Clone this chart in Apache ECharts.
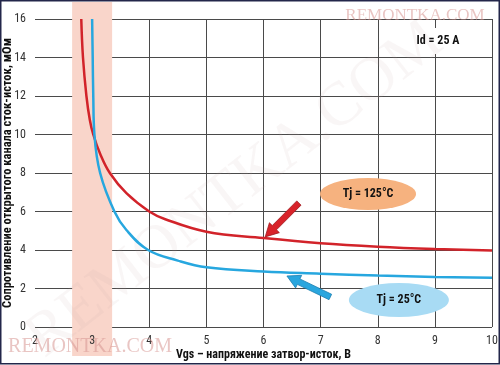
<!DOCTYPE html>
<html><head><meta charset="utf-8">
<script src="https://cdn.jsdelivr.net/npm/echarts@6/dist/echarts.min.js"></script>
<style>html,body{margin:0;padding:0;background:#fff}#c{width:500px;height:365px}</style>
</head><body><div id="c"></div>
<script>
// ---- data ----
const vgsHot = [2.81, 2.84, 2.9, 2.96, 3.02, 3.14, 3.31, 3.6, 4.0, 4.28, 5, 6, 7, 8, 9, 10];
const rdsHot = [16, 14, 12, 10.75, 10, 9, 8, 6.95, 6.0, 5.6, 4.95, 4.62, 4.35, 4.17, 4.05, 3.97];
const vgsCold = [3.0, 3.01, 3.02, 3.04, 3.14, 3.39, 3.6, 3.98, 4.5, 5, 6, 7, 8, 9, 10];
const rdsCold = [16, 14, 12, 10, 8, 6.0, 5.04, 4.0, 3.45, 3.1, 2.88, 2.77, 2.67, 2.6, 2.56];
const xTicks = [2, 3, 4, 5, 6, 7, 8, 9, 10];
const yTicks = [0, 2, 4, 6, 8, 10, 12, 14, 16];
const band = [2.65, 3.35];
const labelHot = 'Tj = 125°C', labelCold = 'Tj = 25°C';
const hotLabelPos = [7.83, 6.91], coldLabelPos = [8.37, 1.40];
const hotArrow = {tip: [6.03, 4.68], tail: [6.62, 6.44]};
const coldArrow = {tip: [6.41, 2.65], tail: [7.17, 1.56]};
const idText = 'Id = 25 A';
const xName = 'Vgs – напряжение затвор-исток, В';
const yName = 'Сопротивление открытого канала сток-исток, мОм';

const F = '"Liberation Sans Narrow","Roboto Condensed","Liberation Sans",Arial,sans-serif';
const zip = (a, b) => a.map((v, i) => [v, b[i]]);

const chart = echarts.init(document.getElementById('c'), null, {renderer: 'canvas'});
const axisCommon = {
  type: 'value', min: xTicks[0], max: xTicks[xTicks.length - 1], interval: 1
};
const option = {
  animation: false,
  backgroundColor: '#fff',
  grid: {left: 35, right: 8, top: 19, bottom: 38, containLabel: false, outerBoundsMode: 'none'},
  xAxis: [
    Object.assign({}, axisCommon, {
      z: 0,
      axisLine: {show: false}, axisTick: {show: false}, axisLabel: {show: false},
      splitLine: {show: true, showMinLine: false, lineStyle: {color: '#4a4a4a', width: 1}}
    }),
    Object.assign({}, axisCommon, {
      z: 10, position: 'bottom',
      axisLine: {show: false}, axisTick: {show: false}, splitLine: {show: false},
      axisLabel: {margin: 8, color: '#333', fontFamily: F, fontSize: 12},
      name: xName, nameLocation: 'middle', nameGap: 22, nameMoveOverlap: false,
      nameTextStyle: {fontFamily: F, fontWeight: 'bold', fontSize: 12, color: '#111'}
    })
  ],
  yAxis: {
    type: 'value', min: yTicks[0], max: yTicks[yTicks.length - 1], interval: 2,
    axisLine: {show: false}, axisTick: {show: false},
    axisLabel: {margin: 9, color: '#333', fontFamily: F, fontSize: 12},
    splitLine: {show: true, lineStyle: {color: '#4a4a4a', width: 1}},
    name: yName, nameLocation: 'middle', nameGap: 21, nameRotate: 90, nameMoveOverlap: false,
    nameTextStyle: {fontFamily: F, fontWeight: 'bold', fontSize: 12.5, color: '#111'}
  },
  series: [
    {type: 'line', z: 3, xAxisIndex: 0, data: zip(vgsHot, rdsHot), smooth: 0.4, symbol: 'none',
     lineStyle: {color: '#d2232a', width: 2.5}},
    {type: 'line', z: 3, xAxisIndex: 0, data: zip(vgsCold, rdsCold), smooth: 0.4, symbol: 'none',
     lineStyle: {color: '#27a7df', width: 2.5}}
  ]
};
chart.setOption(option);

const px = (p) => chart.convertToPixel({xAxisIndex: 0, yAxisIndex: 0}, p);
function arrowPts(tip, tail, w, hw, hl) {
  const dx = tail[0] - tip[0], dy = tail[1] - tip[1];
  const L = Math.hypot(dx, dy), ux = dx / L, uy = dy / L, nx = -uy, ny = ux;
  const b = [tip[0] + ux * hl, tip[1] + uy * hl];
  return [
    tip,
    [b[0] + nx * hw / 2, b[1] + ny * hw / 2],
    [b[0] + nx * w / 2, b[1] + ny * w / 2],
    [tail[0] + nx * w / 2, tail[1] + ny * w / 2],
    [tail[0] - nx * w / 2, tail[1] - ny * w / 2],
    [b[0] - nx * w / 2, b[1] - ny * w / 2],
    [b[0] - nx * hw / 2, b[1] - ny * hw / 2]
  ];
}
const b0 = px([band[0], 0]), b1 = px([band[1], 0]);
const hc = px(hotLabelPos), cc = px(coldLabelPos);
const g = [
  {type: 'rect', z: 1, shape: {x: b0[0], y: 2, width: b1[0] - b0[0], height: 354}, style: {fill: '#f9d5ca'}},
  {type: 'rect', z: 1, shape: {x: 404, y: 28, width: 80, height: 26}, style: {fill: '#fff'}},
  {type: 'text', z: 6, x: 438, y: 41, style: {text: idText, font: 'bold 12px ' + F, fill: '#111', align: 'center', verticalAlign: 'middle'}},
  {type: 'circle', z: 5, x: hc[0], y: hc[1], scaleX: 3, scaleY: 1, shape: {cx: 0, cy: 0, r: 16}, style: {fill: '#f6b27f'}},
  {type: 'text', z: 6, x: hc[0], y: hc[1], style: {text: labelHot, font: 'bold 12px ' + F, fill: '#111', align: 'center', verticalAlign: 'middle'}},
  {type: 'circle', z: 5, x: cc[0], y: cc[1], scaleX: 50 / 17, scaleY: 1, shape: {cx: 0, cy: 0, r: 17}, style: {fill: '#a8dbf4'}},
  {type: 'text', z: 6, x: cc[0], y: cc[1], style: {text: labelCold, font: 'bold 12px ' + F, fill: '#111', align: 'center', verticalAlign: 'middle'}},
  {type: 'polygon', z: 5, shape: {points: arrowPts(px(hotArrow.tip), px(hotArrow.tail), 6, 14, 13)}, style: {fill: '#d8232a', stroke: '#9e1a1f', lineWidth: 0.8}},
  {type: 'polygon', z: 5, shape: {points: arrowPts(px(coldArrow.tip), px(coldArrow.tail), 6, 14, 13)}, style: {fill: '#2aa6de', stroke: '#1d7fb0', lineWidth: 0.8}},
  {type: 'text', z: 20, x: 415, y: 16, style: {text: 'REMONTKA.COM', font: '17px "Liberation Serif","DejaVu Serif",serif', fill: 'rgba(215,150,145,0.55)', align: 'center', verticalAlign: 'middle'}},
  {type: 'text', z: 20, x: 90, y: 347, style: {text: 'REMONTKA.COM', font: '20px "Liberation Serif","DejaVu Serif",serif', fill: 'rgba(215,150,145,0.55)', align: 'center', verticalAlign: 'middle'}},
  {type: 'text', z: 2, x: 235, y: 190, rotation: 0.66, style: {text: 'REMONTKA.COM', font: '62px "Liberation Serif","DejaVu Serif",serif', fill: 'rgba(200,170,170,0.10)', align: 'center', verticalAlign: 'middle'}},
  {type: 'rect', z: 30, shape: {x: 0.75, y: 0.75, width: 498.5, height: 363}, style: {fill: null, stroke: '#23264a', lineWidth: 1.5}}
];
chart.setOption({graphic: {elements: g}});
</script>
</body></html>
